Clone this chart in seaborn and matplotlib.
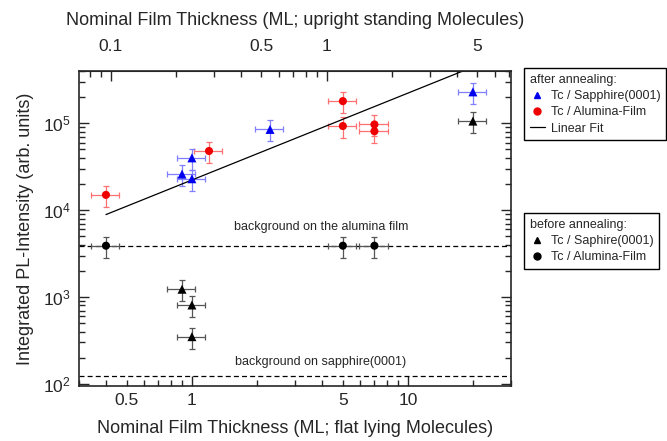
import matplotlib
matplotlib.use("Agg")
import matplotlib.pyplot as plt
import matplotlib.ticker as mticker
from matplotlib.lines import Line2D
import numpy as np
import pandas as pd
import seaborn as sns

# values (x: ML flat lying, y: arb. units)
after_sapphire_x = [0.9, 1.0, 1.0, 2.3, 20.0]
after_sapphire_y = [2.6e4, 2.3e4, 4.0e4, 8.5e4, 2.3e5]
after_alumina_x = [0.4, 1.2, 5.0, 5.0, 7.0, 7.0]
after_alumina_y = [1.5e4, 4.8e4, 1.8e5, 9.3e4, 9.7e4, 8.1e4]
before_sapphire_x = [0.9, 1.0, 1.0, 20.0]
before_sapphire_y = [1230, 810, 350, 1.06e5]
before_alumina_x = [0.4, 5.0, 7.0]
before_alumina_y = [3900, 3900, 3900]
fit_x = [0.4, 20.0]
fit_y = [8.9e3, 4.45e5]
bg_alumina = 3900
bg_sapphire = 125
x_rel_err = 0.15
y_rel_err = 0.27
upright_factor = 4.2

sns.set_style("ticks")
plt.rcParams["font.family"] = ["Liberation Sans", "DejaVu Sans"]

groups = [
    ("after", "sapphire", after_sapphire_x, after_sapphire_y),
    ("after", "alumina", after_alumina_x, after_alumina_y),
    ("before", "sapphire", before_sapphire_x, before_sapphire_y),
    ("before", "alumina", before_alumina_x, before_alumina_y),
]
df = pd.concat(
    [pd.DataFrame({"x": xs, "y": ys, "stage": st, "substrate": sub}) for st, sub, xs, ys in groups],
    ignore_index=True,
)

colors = {("after", "sapphire"): "#0000ee", ("after", "alumina"): "#ee0000",
          ("before", "sapphire"): "black", ("before", "alumina"): "black"}
err_colors = {("after", "sapphire"): "#7f7fff", ("after", "alumina"): "#ff7070",
              ("before", "sapphire"): "#555555", ("before", "alumina"): "#555555"}
markers = {"sapphire": "^", "alumina": "o"}

fig = plt.figure(figsize=(6.67, 4.41), dpi=100)
ax = fig.add_axes([0.1184, 0.125, 0.6476, 0.714])

for (st, sub), g in df.groupby(["stage", "substrate"]):
    ax.errorbar(g["x"], g["y"], xerr=g["x"] * x_rel_err, yerr=g["y"] * y_rel_err,
                fmt="none", ecolor=err_colors[(st, sub)], elinewidth=0.9,
                capsize=2.5, capthick=0.9, zorder=2)
    sns.scatterplot(data=g, x="x", y="y", ax=ax, color=colors[(st, sub)],
                    marker=markers[sub], s=34 if sub == "alumina" else 42,
                    edgecolor="none", zorder=3, legend=False)

fit = pd.DataFrame({"x": fit_x, "y": fit_y})
sns.lineplot(data=fit, x="x", y="y", ax=ax, color="black", linewidth=0.9, zorder=2)

ax.axhline(bg_alumina, color="black", linestyle=(0, (4, 2.5)), linewidth=0.9, zorder=1)
ax.axhline(bg_sapphire, color="black", linestyle=(0, (4, 2.5)), linewidth=0.9, zorder=1)

ax.set_xscale("log")
ax.set_yscale("log")
ax.set_xlim(0.3, 30)
ax.set_ylim(95, 4.0e5)

ax.text(0.56, 0.505, "background on the alumina film", transform=ax.transAxes, fontsize=9, ha="center", va="center")
ax.text(0.56, 0.075, "background on sapphire(0001)", transform=ax.transAxes, fontsize=9, ha="center", va="center")

# bottom axis ticks
ax.xaxis.set_major_locator(mticker.FixedLocator([1, 10]))
ax.xaxis.set_major_formatter(mticker.FixedFormatter(["1", "10"]))
minor_x = [0.3, 0.4, 0.5, 0.6, 0.7, 0.8, 0.9, 2, 3, 4, 5, 6, 7, 8, 9, 20, 30]
ax.xaxis.set_minor_locator(mticker.FixedLocator(minor_x))
ax.xaxis.set_minor_formatter(mticker.FuncFormatter(lambda v, p: {0.5: "0.5", 5: "5"}.get(round(v, 3), "")))

ax.tick_params(axis="both", which="both", direction="in", right=True, top=False, labelsize=12.5)
ax.tick_params(which="major", length=7, width=1)
ax.tick_params(which="minor", length=4, width=1)
ax.tick_params(axis="x", which="both", pad=5)
ax.tick_params(axis="y", which="both", pad=6)
for sp in ax.spines.values():
    sp.set_linewidth(1.2)

# top axis: upright standing molecules
sec = ax.secondary_xaxis("top", functions=(lambda v: v / upright_factor, lambda v: v * upright_factor))
sec.set_xscale("log")
sec.xaxis.set_major_locator(mticker.FixedLocator([0.1, 1]))
sec.xaxis.set_major_formatter(mticker.FixedFormatter(["0.1", "1"]))
minor_top = [0.08, 0.09, 0.2, 0.3, 0.4, 0.5, 0.6, 0.7, 0.8, 0.9, 2, 3, 4, 5, 6, 7]
sec.xaxis.set_minor_locator(mticker.FixedLocator(minor_top))
sec.xaxis.set_minor_formatter(mticker.FuncFormatter(lambda v, p: {0.5: "0.5", 5: "5"}.get(round(v, 3), "")))
sec.tick_params(which="both", direction="in", labelsize=12.5, pad=12)
sec.tick_params(which="major", length=7, width=1)
sec.tick_params(which="minor", length=4, width=1)
sec.set_xlabel("Nominal Film Thickness (ML; upright standing Molecules)", fontsize=13, labelpad=10)

ax.set_xlabel("Nominal Film Thickness (ML; flat lying Molecules)", fontsize=13, labelpad=9)
ax.set_ylabel("Integrated PL-Intensity (arb. units)", fontsize=13, labelpad=6)

legend_kw = dict(loc="upper left", fontsize=9, title_fontsize=9, alignment="left",
                 fancybox=False, edgecolor="black", framealpha=1, handlelength=1.2,
                 handletextpad=0.5, borderpad=0.45, borderaxespad=0.0, labelspacing=0.35)

h_after = [
    Line2D([], [], marker="^", color="#0000ee", linestyle="none", markersize=5),
    Line2D([], [], marker="o", color="#ee0000", linestyle="none", markersize=5),
    Line2D([], [], color="black", linewidth=0.9),
]
leg1 = fig.legend(h_after, ["Tc / Sapphire(0001)", "Tc / Alumina-Film", "Linear Fit"],
                  title="after annealing:", bbox_to_anchor=(0.786, 0.846), **legend_kw)
leg1.get_frame().set_linewidth(1.0)

h_before = [
    Line2D([], [], marker="^", color="black", linestyle="none", markersize=5),
    Line2D([], [], marker="o", color="black", linestyle="none", markersize=5),
]
leg2 = fig.legend(h_before, ["Tc / Saphire(0001)", "Tc / Alumina-Film"],
                  title="before annealing:", bbox_to_anchor=(0.786, 0.517), **legend_kw)
leg2.get_frame().set_linewidth(1.0)

fig.savefig("out.png", dpi=100)
